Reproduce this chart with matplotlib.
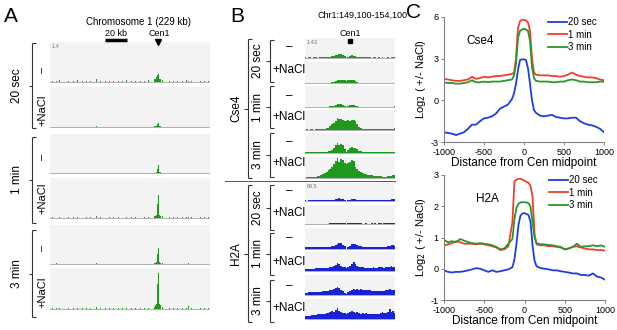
import numpy as np
import matplotlib
matplotlib.use('Agg')
import matplotlib.pyplot as plt

plt.rcParams['font.family'] = ['Liberation Sans', 'DejaVu Sans']
plt.rcParams['axes.unicode_minus'] = False

# ---------------- data ----------------
# panel A: chromosome 1 browser tracks (kb positions, signal as fraction of track height)
a_pos = [3, 9, 14, 20, 27, 33, 40, 46, 52, 58, 63, 67, 72, 79, 85, 91, 98, 104, 110, 117,
         123, 129, 135, 141, 146, 149, 151, 152.5, 153.5, 154.2, 155, 156, 157, 158.5, 161, 166,
         171, 177, 183, 189, 195, 198, 203, 209, 215, 221, 227]
a_20s_minus = [0.04, 0.03, 0.05, 0.03, 0.04, 0.03, 0.05, 0.03, 0.04, 0.03, 0.04, 0.07, 0.04, 0.03, 0.04, 0.03,
               0.04, 0.03, 0.05, 0.03, 0.04, 0.03, 0.04, 0.05, 0.05, 0.07, 0.09, 0.12, 0.15, 0.19, 0.2, 0.12,
               0.08, 0.07, 0.06, 0.05, 0.04, 0.03, 0.04, 0.03, 0.05, 0.04, 0.03, 0.04, 0.03, 0.04, 0.03]
a_20s_nacl = [0.01, 0, 0.01, 0, 0.01, 0, 0.01, 0, 0.01, 0, 0.01, 0.02, 0, 0.01, 0, 0.01, 0, 0.01, 0, 0.01,
              0, 0.01, 0, 0.01, 0.01, 0.02, 0.02, 0.03, 0.05, 0.08, 0.1, 0.05, 0.03, 0.02, 0.01, 0.01, 0,
              0.01, 0, 0.01, 0, 0.01, 0, 0.01, 0, 0.01, 0]
a_1m_minus = [0, 0.01, 0, 0.01, 0, 0, 0.01, 0, 0, 0.01, 0, 0.01, 0, 0, 0.01, 0, 0, 0.01, 0, 0,
              0.01, 0, 0, 0.01, 0, 0.01, 0.01, 0.02, 0.06, 0.12, 0.2, 0.08, 0.03, 0.02, 0.01, 0, 0.01,
              0, 0, 0.01, 0, 0.01, 0, 0.02, 0, 0.01, 0]
a_1m_nacl = [0.02, 0.01, 0.03, 0.02, 0.03, 0.02, 0.02, 0.01, 0.02, 0.03, 0.02, 0.05, 0.02, 0.01, 0.02, 0.03,
             0.02, 0.01, 0.02, 0.03, 0.02, 0.01, 0.02, 0.03, 0.04, 0.05, 0.06, 0.09, 0.16, 0.35, 0.58, 0.22,
             0.09, 0.06, 0.05, 0.04, 0.03, 0.02, 0.03, 0.02, 0.03, 0.04, 0.02, 0.03, 0.02, 0.03, 0.02]
a_3m_minus = [0.01, 0.03, 0.01, 0.01, 0.01, 0.01, 0.01, 0.01, 0.01, 0.01, 0.01, 0.03, 0.01, 0.01, 0.01, 0.01,
              0.01, 0.01, 0.01, 0.01, 0.01, 0.01, 0.01, 0.01, 0.02, 0.03, 0.03, 0.05, 0.1, 0.25, 0.42, 0.13,
              0.05, 0.03, 0.02, 0.01, 0.01, 0.01, 0.01, 0.01, 0.01, 0.02, 0.01, 0.01, 0.01, 0.01, 0.01]
a_3m_nacl = [0.02, 0.02, 0.03, 0.02, 0.02, 0.03, 0.02, 0.02, 0.03, 0.02, 0.02, 0.06, 0.02, 0.03, 0.02, 0.02,
             0.03, 0.02, 0.02, 0.03, 0.02, 0.02, 0.03, 0.03, 0.05, 0.06, 0.09, 0.13, 0.3, 0.6, 0.88, 0.36,
             0.13, 0.09, 0.06, 0.05, 0.04, 0.03, 0.04, 0.03, 0.03, 0.08, 0.03, 0.02, 0.03, 0.02, 0.02]

# panel B: Chr1:149,100-154,100 in 0.1 kb bins
b_pos = np.linspace(149.1, 154.1, 51)
cse4_20s_minus = [0.05, 0.04, 0.06, 0.05, 0.04, 0.05, 0.06, 0.04, 0.05, 0.05, 0.06, 0.06, 0.07, 0.07, 0.08, 0.1, 0.12,
                  0.15, 0.18, 0.21, 0.2, 0.16, 0.1, 0.02, 0.08, 0.13, 0.15, 0.14, 0.12, 0.09,
                  0.07, 0.06, 0.06, 0.05, 0.06, 0.05, 0.05, 0.04, 0.05, 0.05, 0.04, 0.05, 0.04, 0.05, 0.04, 0.04,
                  0.05, 0.04, 0.05, 0.06, 0.07]
cse4_20s_nacl = [0.01, 0.02, 0.01, 0.01, 0.02, 0.01, 0.01, 0.02, 0.01, 0.01, 0.02, 0.02, 0.02, 0.03, 0.03, 0.05, 0.08,
                 0.12, 0.14, 0.16, 0.16, 0.15, 0.14, 0.13, 0.15, 0.16, 0.15, 0.14, 0.12, 0.08,
                 0.04, 0.03, 0.02, 0.02, 0.02, 0.01, 0.02, 0.01, 0.01, 0.02, 0.01, 0.01, 0.02, 0.01, 0.01, 0.02,
                 0.01, 0.01, 0.02, 0.01, 0.02]
cse4_1m_minus = [0.02, 0.03, 0.02, 0.02, 0.03, 0.02, 0.02, 0.03, 0.02, 0.02, 0.03, 0.03, 0.03, 0.04, 0.05, 0.06, 0.08,
                 0.12, 0.15, 0.17, 0.15, 0.12, 0.07, 0.02, 0.06, 0.09, 0.1, 0.1, 0.08, 0.05,
                 0.04, 0.03, 0.03, 0.02, 0.03, 0.02, 0.02, 0.03, 0.02, 0.02, 0.03, 0.02, 0.02, 0.03, 0.02, 0.02,
                 0.03, 0.02, 0.03, 0.04, 0.05]
cse4_1m_nacl = [0.04, 0.05, 0.04, 0.05, 0.05, 0.04, 0.05, 0.05, 0.06, 0.06, 0.07, 0.08, 0.1, 0.13, 0.2, 0.3, 0.38,
                0.48, 0.6, 0.58, 0.55, 0.5, 0.47, 0.45, 0.5, 0.48, 0.52, 0.5, 0.45, 0.3,
                0.15, 0.1, 0.08, 0.07, 0.06, 0.06, 0.05, 0.06, 0.05, 0.05, 0.06, 0.05, 0.05, 0.06, 0.05, 0.05,
                0.06, 0.06, 0.07, 0.09, 0.1]
cse4_3m_minus = [0.05, 0.05, 0.06, 0.05, 0.06, 0.05, 0.06, 0.06, 0.06, 0.07, 0.07, 0.08, 0.09, 0.1, 0.12, 0.15, 0.25,
                 0.4, 0.5, 0.42, 0.45, 0.4, 0.2, 0.08, 0.18, 0.25, 0.3, 0.28, 0.25, 0.2,
                 0.12, 0.1, 0.09, 0.08, 0.08, 0.07, 0.07, 0.06, 0.07, 0.06, 0.06, 0.07, 0.06, 0.06, 0.06, 0.06,
                 0.07, 0.06, 0.07, 0.08, 0.09]
cse4_3m_nacl = [0.04, 0.05, 0.05, 0.06, 0.06, 0.07, 0.08, 0.1, 0.12, 0.15, 0.2, 0.25, 0.3, 0.38, 0.45, 0.55, 0.65,
                0.8, 0.95, 0.75, 0.9, 0.85, 0.7, 0.65, 0.7, 0.75, 0.85, 0.8, 0.55, 0.45,
                0.35, 0.3, 0.25, 0.22, 0.2, 0.18, 0.15, 0.14, 0.12, 0.11, 0.1, 0.09, 0.09, 0.08, 0.08, 0.08,
                0.09, 0.1, 0.13, 0.16, 0.18]
h2a_20s_minus = [0.06, 0.05, 0.07, 0.06, 0.06, 0.07, 0.07, 0.06, 0.07, 0.07, 0.07, 0.07, 0.08, 0.08, 0.08, 0.09, 0.1,
                 0.12, 0.15, 0.17, 0.15, 0.12, 0.1, 0.02, 0.08, 0.1, 0.12, 0.14, 0.13, 0.1,
                 0.09, 0.08, 0.08, 0.08, 0.08, 0.07, 0.08, 0.08, 0.07, 0.08, 0.08, 0.08, 0.07, 0.08, 0.08, 0.08,
                 0.09, 0.1, 0.12, 0.14, 0.12]
h2a_20s_nacl = [0.02, 0.02, 0.03, 0.03, 0.03, 0.03, 0.03, 0.03, 0.04, 0.04, 0.04, 0.04, 0.04, 0.04, 0.05, 0.05, 0.05,
                0.06, 0.07, 0.08, 0.07, 0.06, 0.05, 0.03, 0.05, 0.06, 0.07, 0.08, 0.07, 0.06,
                0.05, 0.05, 0.04, 0.04, 0.05, 0.04, 0.04, 0.05, 0.04, 0.05, 0.04, 0.05, 0.05, 0.04, 0.05, 0.05,
                0.05, 0.06, 0.06, 0.07, 0.06]
h2a_1m_minus = [0.1, 0.1, 0.11, 0.11, 0.1, 0.11, 0.12, 0.11, 0.12, 0.12, 0.12, 0.12, 0.13, 0.13, 0.13, 0.14, 0.16,
                0.2, 0.26, 0.3, 0.28, 0.22, 0.15, 0.03, 0.12, 0.18, 0.24, 0.26, 0.24, 0.2,
                0.16, 0.14, 0.13, 0.13, 0.12, 0.13, 0.12, 0.12, 0.13, 0.12, 0.12, 0.13, 0.12, 0.12, 0.13, 0.13,
                0.14, 0.16, 0.2, 0.22, 0.18]
h2a_1m_nacl = [0.12, 0.13, 0.14, 0.14, 0.15, 0.15, 0.16, 0.16, 0.17, 0.17, 0.18, 0.18, 0.19, 0.2, 0.22, 0.24, 0.28,
               0.35, 0.45, 0.38, 0.3, 0.25, 0.22, 0.2, 0.24, 0.3, 0.4, 0.46, 0.36, 0.28,
               0.24, 0.22, 0.21, 0.2, 0.2, 0.19, 0.2, 0.2, 0.21, 0.2, 0.2, 0.21, 0.21, 0.22, 0.2, 0.21,
               0.22, 0.24, 0.26, 0.25, 0.24]
h2a_3m_minus = [0.12, 0.13, 0.15, 0.15, 0.16, 0.17, 0.17, 0.18, 0.18, 0.19, 0.2, 0.2, 0.21, 0.22, 0.24, 0.26, 0.3,
                0.35, 0.4, 0.34, 0.28, 0.2, 0.12, 0.06, 0.15, 0.22, 0.28, 0.3, 0.28, 0.3,
                0.28, 0.3, 0.27, 0.28, 0.26, 0.25, 0.24, 0.22, 0.22, 0.21, 0.22, 0.22, 0.2, 0.21, 0.22, 0.24,
                0.28, 0.3, 0.26, 0.25, 0.24]
h2a_3m_nacl = [0.15, 0.16, 0.18, 0.18, 0.2, 0.22, 0.21, 0.24, 0.25, 0.24, 0.27, 0.28, 0.3, 0.32, 0.35, 0.4, 0.35,
               0.45, 0.55, 0.4, 0.35, 0.32, 0.3, 0.25, 0.32, 0.38, 0.42, 0.35, 0.3, 0.35,
               0.32, 0.28, 0.3, 0.27, 0.32, 0.28, 0.27, 0.26, 0.25, 0.27, 0.28, 0.26, 0.3, 0.35, 0.3, 0.32,
               0.38, 0.5, 0.35, 0.4, 0.3]

# panel C: log2(+/- NaCl) around Cen midpoint
dist = [-1000, -950, -900, -850, -800, -750, -700, -650, -600, -550, -500, -450, -400, -350, -300, -250,
        -200, -150, -125, -100, -75, -50, -25, 0, 25, 50, 75, 100, 125, 150, 200, 250, 300, 350, 400,
        450, 500, 550, 600, 650, 700, 750, 800, 850, 900, 950, 1000]
cse4_20s = [-2.3, -2.35, -2.4, -2.5, -2.4, -2.3, -2.05, -1.75, -1.75, -1.5, -1.3, -1.25, -1.15, -0.95, -0.6,
            -0.45, -0.3, 0.1, 0.5, 1.2, 2.2, 2.9, 2.95, 2.95, 2.9, 2.3, 1.2, 0.0, -0.7, -0.9, -1.1, -1.15,
            -1.1, -1.05, -1.2, -1.25, -1.3, -1.3, -1.25, -1.25, -1.5, -1.65, -1.75, -1.8, -1.9, -2.05, -2.3]
cse4_1m = [1.55, 1.5, 1.45, 1.4, 1.4, 1.45, 1.5, 1.7, 1.55, 1.6, 1.7, 1.65, 1.7, 1.75, 1.75, 1.8, 1.85,
           1.9, 2.0, 3.0, 5.2, 5.7, 5.8, 5.8, 5.75, 5.6, 5.0, 3.0, 2.0, 1.85, 1.8, 1.8, 1.8, 1.75, 1.75,
           1.7, 1.75, 1.85, 2.0, 1.85, 1.75, 1.7, 1.65, 1.65, 1.6, 1.5, 1.45]
cse4_3m = [1.3, 1.25, 1.25, 1.2, 1.2, 1.25, 1.3, 1.45, 1.3, 1.3, 1.35, 1.3, 1.35, 1.35, 1.35, 1.4, 1.45,
           1.5, 1.8, 2.6, 4.5, 5.0, 5.1, 5.15, 5.1, 5.0, 4.3, 2.4, 1.6, 1.4, 1.35, 1.35, 1.35, 1.3, 1.3,
           1.35, 1.35, 1.45, 1.5, 1.45, 1.35, 1.35, 1.3, 1.3, 1.3, 1.35, 1.35]
h2a_20s = [-0.05, -0.1, -0.12, -0.1, -0.1, -0.08, -0.05, -0.02, 0.02, 0.0, -0.05, -0.1, -0.05, -0.1, -0.08,
           -0.05, -0.02, 0.05, 0.3, 0.8, 1.4, 1.7, 1.77, 1.78, 1.75, 1.72, 1.5, 0.75, 0.25, 0.08, 0.02, 0.0,
           -0.02, -0.05, -0.05, -0.08, -0.1, -0.12, -0.15, -0.15, -0.2, -0.2, -0.22, -0.15, -0.25, -0.28, -0.35]
h2a_1m = [0.75, 0.78, 0.82, 0.88, 0.85, 0.8, 0.8, 0.8, 0.78, 0.8, 0.78, 0.75, 0.72, 0.68, 0.6, 0.62, 0.72,
          1.5, 2.8, 2.85, 2.88, 2.88, 2.85, 2.82, 2.78, 2.75, 2.65, 2.3, 1.1, 0.78, 0.75, 0.75, 0.72, 0.72,
          0.7, 0.68, 0.62, 0.65, 0.7, 0.72, 0.68, 0.65, 0.62, 0.62, 0.6, 0.6, 0.58]
h2a_3m = [0.92, 0.85, 0.88, 0.85, 0.95, 0.9, 0.85, 0.82, 0.8, 0.82, 0.8, 0.78, 0.75, 0.7, 0.62, 0.65, 0.8,
          0.95, 1.6, 1.95, 2.08, 2.12, 2.13, 2.13, 2.12, 2.1, 1.98, 1.5, 1.0, 0.82, 0.78, 0.78, 0.76, 0.75,
          0.72, 0.7, 0.62, 0.65, 0.7, 0.8, 0.7, 0.72, 0.72, 0.75, 0.72, 0.75, 0.7]

GREEN = '#1f9a1f'
BLUE = '#1a22d8'
W, H = 617, 330
fig = plt.figure(figsize=(6.17, 3.30), dpi=100)


def box(x0, y0, x1, y1):
    # axes placed by pixel edges (origin top-left)
    return fig.add_axes([x0 / W, 1 - y1 / H, (x1 - x0) / W, (y1 - y0) / H])


def track_style(ax):
    ax.set_facecolor('#f3f3f3')
    for s in ax.spines.values():
        s.set_visible(False)
    ax.set_xticks([])
    ax.set_yticks([])
    ax.axhline(0, color='#a5a5a5', lw=0.6, zorder=1)


# ---- panel A tracks ----
a_rows = [(42, 83), (87, 128), (134, 174), (178, 219), (225, 265), (268, 310)]
for (y0, y1), h in zip(a_rows, [a_20s_minus, a_20s_nacl, a_1m_minus, a_1m_nacl, a_3m_minus, a_3m_nacl]):
    ax = box(50, y0, 210, y1)
    track_style(ax)
    ax.bar(a_pos, h, width=1.3, color=GREEN, lw=0, zorder=2)
    ax.set_xlim(0, 229)
    ax.set_ylim(-0.02, 1)

# ---- panel B tracks ----
b_rows = [(38, 59), (62, 84), (86, 108), (110, 131), (133, 154), (157, 179),
          (183, 202), (205, 225), (228, 250), (252, 272), (275, 296), (299, 320)]
b_data = [cse4_20s_minus, cse4_20s_nacl, cse4_1m_minus, cse4_1m_nacl, cse4_3m_minus, cse4_3m_nacl,
          h2a_20s_minus, h2a_20s_nacl, h2a_1m_minus, h2a_1m_nacl, h2a_3m_minus, h2a_3m_nacl]
for i, ((y0, y1), h) in enumerate(zip(b_rows, b_data)):
    ax = box(305, y0, 395, y1)
    track_style(ax)
    col = GREEN if i < 6 else BLUE
    ax.fill_between(b_pos, 0, h, step='mid', color=col, lw=0, zorder=2)
    ax.set_xlim(149.1, 154.1)
    ax.set_ylim(-0.03, 1)

# ---- panel C ----
def line_panel(ax, s20, s1, s3, ylim, yticks, name, name_xy):
    ax.plot(dist, s20, color='#1f3de0', lw=1.3, label='20 sec')
    ax.plot(dist, s1, color='#f0402a', lw=1.3, label='1 min')
    ax.plot(dist, s3, color='#2a952a', lw=1.3, label='3 min')
    ax.set_xlim(-1000, 1000)
    ax.set_ylim(*ylim)
    ax.set_yticks(yticks)
    ax.set_xticks([-1000, -500, 0, 500, 1000])
    for s in ['top', 'right']:
        ax.spines[s].set_visible(False)
    for s in ['left', 'bottom']:
        ax.spines[s].set_color('#808080')
        ax.spines[s].set_linewidth(0.8)
    ax.tick_params(labelsize=6.5, length=2.5, width=0.7, color='#808080', pad=1.5)
    ax.set_xlabel('Distance from Cen midpoint', fontsize=8.5, labelpad=0.5)
    ax.set_ylabel('Log$_2$ ( +/- NaCl)', fontsize=8, labelpad=2)
    ax.text(name_xy[0], name_xy[1], name, transform=ax.transAxes, fontsize=8.5)
    ax.legend(loc='upper right', bbox_to_anchor=(0.98, 1.03), frameon=False, fontsize=7,
              handlelength=2.0, handletextpad=0.1, labelspacing=0.25, borderaxespad=0)


axc1 = box(444, 17, 604, 142)
line_panel(axc1, cse4_20s, cse4_1m, cse4_3m, (-3, 6), [-3, 0, 3, 6], 'Cse4', (0.14, 0.78))
axc2 = box(444, 175, 605, 300)
line_panel(axc2, h2a_20s, h2a_1m, h2a_3m, (-1, 3), [-1, 0, 1, 2, 3], 'H2A', (0.2, 0.78))

# ---- labels, brackets and headers (pixel overlay) ----
ov = fig.add_axes([0, 0, 1, 1])
ov.set_xlim(0, W)
ov.set_ylim(H, 0)
ov.axis('off')
ov.patch.set_alpha(0)


def bracket(x, y0, y1, out=4, mid=4):
    kw = dict(color='#333333', lw=0.8, solid_capstyle='butt')
    ov.plot([x, x], [y0, y1], **kw)
    ov.plot([x, x + out], [y0, y0], **kw)
    ov.plot([x, x + out], [y1, y1], **kw)
    ym = (y0 + y1) / 2
    ov.plot([x - mid, x], [ym, ym], **kw)
    return ym


for lab, (y0, y1), ym_minus, ym_nacl in [('20 sec', (43, 128), 70, 110),
                                         ('1 min', (137, 223), 157, 198),
                                         ('3 min', (230, 317), 248, 292)]:
    ym = bracket(32, y0, y1, out=4, mid=3)
    ov.text(17, ym, lab, rotation=90, ha='center', va='center', fontsize=8.5)
    ov.text(42, ym_minus, '–', rotation=90, ha='center', va='center', fontsize=8)
    ov.text(42, ym_nacl, '+NaCl', rotation=90, ha='center', va='center', fontsize=8)

ov.text(4, 16, 'A', fontsize=15, va='center')
ov.text(139, 22, 'Chromosome 1 (229 kb)', ha='center', va='center', fontsize=7)
ov.text(116, 33, '20 kb', ha='center', va='center', fontsize=6.5)
ov.plot([105, 127], [40, 40], color='black', lw=2.5, solid_capstyle='butt')
ov.text(159, 33, 'Cen1', ha='center', va='center', fontsize=6.5)
ov.plot([158], [42], marker='v', color='black', ms=4.5)
ov.text(52, 46, '1.4', fontsize=4, color='#777777', va='center')

# panel B labels
ov.text(230, 16, 'B', fontsize=15, va='center')
ov.text(363, 15, 'Chr1:149,100-154,100', ha='center', va='center', fontsize=6.5)
ov.text(350, 33, 'Cen1', ha='center', va='center', fontsize=6.5)
ov.plot([350], [41], marker='s', color='black', ms=3.5)
ov.text(307, 42, '1.43', fontsize=4, color='#777777', va='center')
ov.text(307, 186, '69.5', fontsize=4, color='#777777', va='center')
ov.plot([225, 395], [180.5, 180.5], color='#555555', lw=0.7)

for prot, (y0, y1) in [('Cse4', (39, 178)), ('H2A', (185, 322))]:
    ym = bracket(248, y0, y1, out=4, mid=4)
    ov.text(236, ym, prot, rotation=90, ha='center', va='center', fontsize=8.5)

groups_b = [('20 sec', (40, 82), 47, 70), ('1 min', (86, 128), 96, 117), ('3 min', (133, 177), 142, 163),
            ('20 sec', (185, 230), 191, 213), ('1 min', (233, 275), 238, 262), ('3 min', (280, 322), 286, 308)]
for lab, (y0, y1), ym_minus, ym_nacl in groups_b:
    ym = bracket(270, y0, y1, out=4, mid=4)
    ov.text(258, ym, lab, rotation=90, ha='center', va='center', fontsize=8.5)
    ov.text(289, ym_minus, '–', ha='center', va='center', fontsize=8.5)
    ov.text(289, ym_nacl, '+NaCl', ha='center', va='center', fontsize=8.5)

ov.text(406, 13, 'C', fontsize=15, va='center')

fig.savefig('out.png', dpi=100)
